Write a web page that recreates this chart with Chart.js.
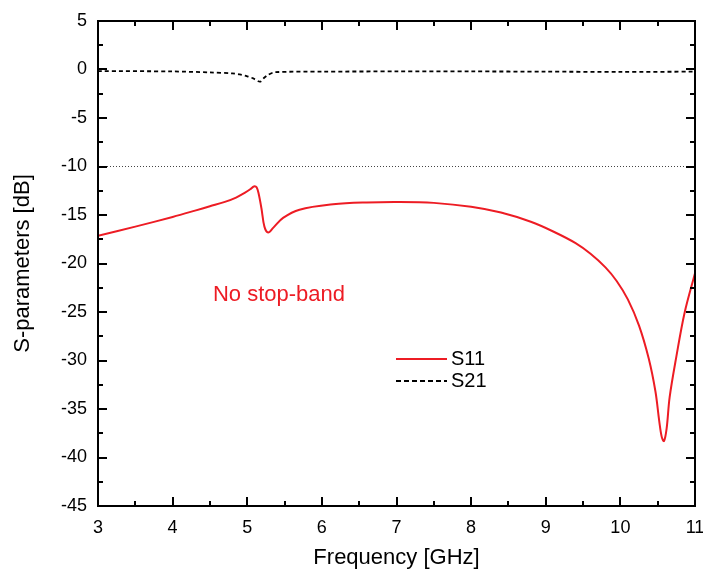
<!DOCTYPE html>
<html>
<head>
<meta charset="utf-8">
<script src="https://cdn.jsdelivr.net/npm/chart.js@4/dist/chart.umd.min.js"></script>
<style>
html,body{margin:0;padding:0;background:#fff;}
#wrap{width:703px;height:572px;}
</style>
</head>
<body>
<div id="wrap"><canvas id="c" width="703" height="572"></canvas></div>
<script>
// ---- data ----
const s11Freq = [3.0, 3.5, 4.0, 4.3, 4.5, 4.7, 4.85, 4.97, 5.04, 5.075, 5.10, 5.125, 5.15, 5.19, 5.23, 5.28, 5.35, 5.48, 5.70, 6.15, 6.60, 7.04, 7.50, 8.00, 8.40, 8.80, 9.10, 9.40, 9.60, 9.80, 9.95, 10.10, 10.25, 10.38, 10.47, 10.52, 10.555, 10.585, 10.62, 10.66, 10.75, 10.86, 11.0];
const s11Vals = [-17.15, -16.2, -15.2, -14.55, -14.1, -13.65, -13.2, -12.7, -12.35, -12.12, -12.03, -12.15, -12.7, -14.3, -16.2, -16.8, -16.3, -15.3, -14.45, -13.9, -13.7, -13.65, -13.75, -14.15, -14.75, -15.7, -16.7, -17.9, -19.0, -20.4, -21.8, -23.7, -26.4, -29.8, -33.2, -36.2, -37.9, -38.3, -37.0, -33.8, -29.6, -25.1, -21.0];
const s21Freq = [3.0, 4.0, 4.5, 4.8, 4.90, 5.0, 5.08, 5.17, 5.22, 5.28, 5.37, 6.0, 7.0, 8.0, 9.0, 10.0, 11.0];
const s21Vals = [-0.16, -0.2, -0.3, -0.4, -0.5, -0.7, -0.92, -1.26, -0.9, -0.55, -0.28, -0.22, -0.2, -0.2, -0.22, -0.25, -0.22];
const refFreq = [3, 11];
const refVals = [-10, -10];
const xTicks = [3, 4, 5, 6, 7, 8, 9, 10, 11];
const yTicks = [5, 0, -5, -10, -15, -20, -25, -30, -35, -40, -45];
const seriesNames = ["S11", "S21"];
const annotationText = "No stop-band";

const FONT = "'Liberation Sans', Arial, Helvetica, sans-serif";
const RED = "rgb(237,28,36)";

function pts(xs, ys){ return xs.map((x,i)=>({x:x, y:ys[i]})); }

const decor = {
  id: 'decor',
  afterDraw(chart){
    const ctx = chart.ctx, xs = chart.scales.x, ys = chart.scales.y;
    const a = chart.chartArea;
    ctx.save();
    ctx.strokeStyle = '#000';
    ctx.lineWidth = 2;
    ctx.strokeRect(a.left, a.top, a.right - a.left, a.bottom - a.top);
    ctx.beginPath();
    for (let v = 3; v <= 11.001; v += 0.5) {
      const p = Math.round(xs.getPixelForValue(v));
      const L = (Math.abs(v - Math.round(v)) < 1e-6) ? 9 : 5;
      ctx.moveTo(p, a.bottom); ctx.lineTo(p, a.bottom - L);
      ctx.moveTo(p, a.top); ctx.lineTo(p, a.top + L);
    }
    for (let v = -45; v <= 5.001; v += 2.5) {
      const p = Math.round(ys.getPixelForValue(v));
      const L = (Math.abs(v/5 - Math.round(v/5)) < 1e-6) ? 9 : 5;
      ctx.moveTo(a.left, p); ctx.lineTo(a.left + L, p);
      ctx.moveTo(a.right, p); ctx.lineTo(a.right - L, p);
    }
    ctx.stroke();

    // annotation
    ctx.fillStyle = RED;
    ctx.font = "22px " + FONT;
    ctx.textAlign = 'left';
    ctx.textBaseline = 'middle';
    ctx.fillText(annotationText, xs.getPixelForValue(4.54), ys.getPixelForValue(-23.2));

    // legend
    const lx0 = 396, lx1 = 447;
    const ly1 = 359, ly2 = 381;
    ctx.lineWidth = 2;
    ctx.strokeStyle = RED;
    ctx.beginPath(); ctx.moveTo(lx0, ly1); ctx.lineTo(lx1, ly1); ctx.stroke();
    ctx.strokeStyle = '#000';
    ctx.setLineDash([5,3]);
    ctx.beginPath(); ctx.moveTo(lx0, ly2); ctx.lineTo(lx1, ly2); ctx.stroke();
    ctx.setLineDash([]);
    ctx.fillStyle = '#000';
    ctx.font = "20px " + FONT;
    ctx.fillText(seriesNames[0], 451, ly1);
    ctx.fillText(seriesNames[1], 451, ly2);
    ctx.restore();
  }
};

new Chart(document.getElementById('c'), {
  type: 'line',
  data: {
    datasets: [
      { label: 'ref', data: pts(refFreq, refVals), borderColor: '#444', borderWidth: 1, borderDash: [1,2], pointRadius: 0, fill: false },
      { label: seriesNames[1], data: pts(s21Freq, s21Vals), borderColor: '#000', borderWidth: 1.8, borderDash: [4,3], pointRadius: 0, fill: false, tension: 0.3 },
      { label: seriesNames[0], data: pts(s11Freq, s11Vals), borderColor: RED, borderWidth: 2, pointRadius: 0, fill: false, tension: 0.35 }
    ]
  },
  options: {
    responsive: false,
    animation: false,
    layout: { padding: { top: 21, right: 8, left: 0, bottom: 0 } },
    plugins: { legend: { display: false }, tooltip: { enabled: false } },
    scales: {
      x: {
        type: 'linear', min: 3, max: 11,
        afterBuildTicks: s => { s.ticks = xTicks.map(v => ({ value: v })); },
        afterFit: s => { s.height = 66; s.paddingLeft = 0; s.paddingRight = 0; },
        grid: { display: false },
        border: { display: false },
        ticks: { color: '#000', font: { size: 18, family: FONT }, padding: 3, maxRotation: 0 },
        title: { display: true, text: 'Frequency [GHz]', color: '#000', font: { size: 22, family: FONT }, padding: { top: 0, bottom: 1 } }
      },
      y: {
        type: 'linear', min: -45, max: 5,
        afterBuildTicks: s => { s.ticks = yTicks.map(v => ({ value: v })); },
        afterFit: s => { s.width = 98; s.paddingTop = 0; s.paddingBottom = 0; },
        grid: { display: false },
        border: { display: false },
        ticks: { color: '#000', font: { size: 18, family: FONT }, padding: 3 },
        title: { display: true, text: 'S-parameters [dB]', color: '#000', font: { size: 22, family: FONT }, padding: { top: 10, bottom: 0 } }
      }
    }
  },
  plugins: [decor]
});
</script>
</body>
</html>
